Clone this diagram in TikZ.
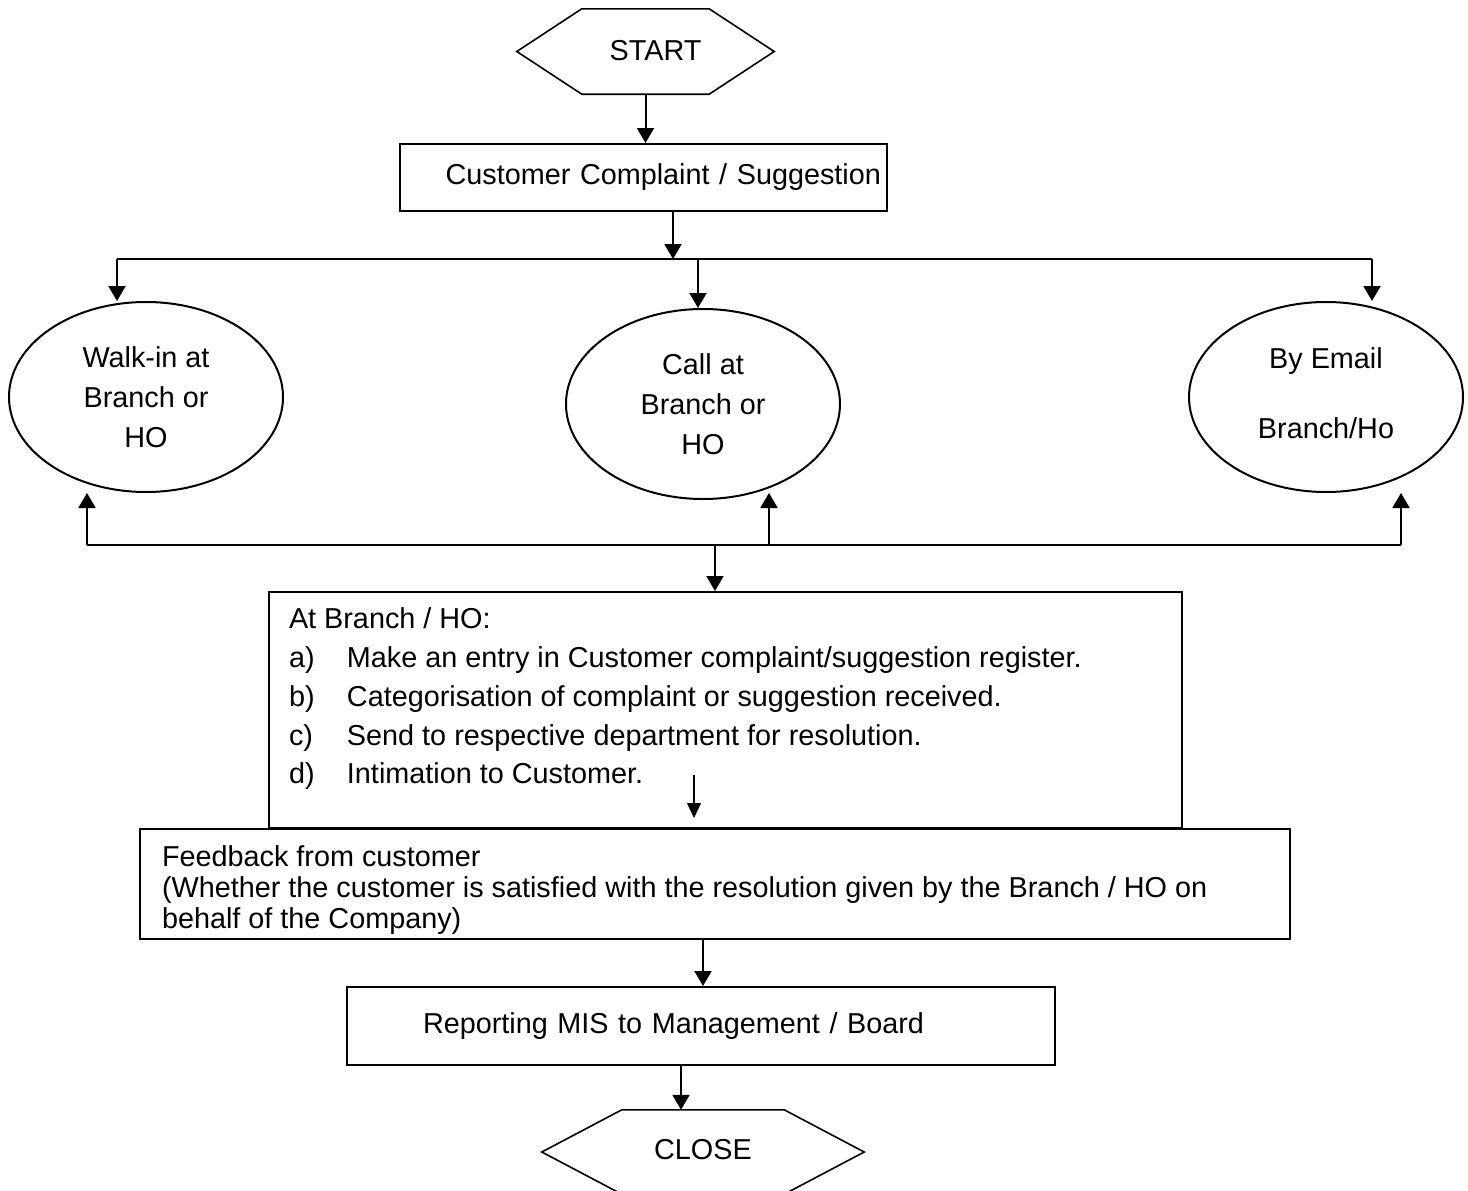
\documentclass[tikz,border=0pt]{standalone}
\usepackage{fontspec}
\setmainfont{Liberation Sans}
\usetikzlibrary{arrows.meta, shapes.geometric, positioning, calc}

\newcommand{\listrow}[2]{\makebox[58pt][l]{#1}#2}

\tikzset{
  line/.style={line width=2pt},
  arrow/.style={line, -{Triangle[width=17pt,length=15pt]}},
  thinarrow/.style={line width=1.2pt, -{Triangle[width=14pt,length=15pt]}},
  hexa/.style={minimum height=85pt, inner sep=0pt},
  box/.style={draw, line, anchor=north west, inner ysep=0pt, align=left},
  oval/.style={draw, line, ellipse, minimum width=274pt, minimum height=190pt, inner sep=0pt, align=center}
}

\begin{document}
\begin{tikzpicture}[x=1pt, y=-1pt, every node/.style={font=\fontsize{28.8}{40}\selectfont}]
\useasboundingbox (0,0) rectangle (1468,1191);

% start and close
\node[hexa, minimum width=127pt] (start) at (645.5,51.5) {\hspace*{20pt}\raisebox{3pt}{START}};
\node[hexa, minimum width=162pt, minimum height=84pt] (close) at (703,1152) {\raisebox{6pt}{CLOSE}};
\foreach \n/\r in {start/65, close/80}
  \draw[line, line width=1.6pt] (\n.north west) -- (\n.north east) -- ([xshift=\r pt]\n.east)
    -- (\n.south east) -- (\n.south west) -- ([xshift=-\r pt]\n.west) -- cycle;

% boxes
\node[box, align=right, text width=475pt, inner xsep=6pt, minimum height=67pt] (complaint) at (399,143) {Customer Complaint / Suggestion\par\vspace*{6pt}};

\node[oval] (walkin) at (146,397) {Walk-in at\\Branch or\\HO};
\node[oval] (call) at (703,404) {Call at\\Branch or\\HO};
\node[oval] (email) at (1326,397) {By Email\\[30pt]Branch/Ho\par\vspace*{8pt}};

\node[box, inner xsep=20pt, font=\fontsize{28.8}{38.75}\selectfont] (branch) at (268,591)
  {\parbox[c][236pt][t]{873pt}{\vspace*{16pt}At Branch / HO:\\
   \listrow{a)}{Make an entry in Customer complaint/suggestion register.}\\
   \listrow{b)}{Categorisation of complaint or suggestion received.}\\
   \listrow{c)}{Send to respective department for resolution.}\\
   \listrow{d)}{Intimation to Customer.}}};

\node[box, inner xsep=22pt, font=\fontsize{28.8}{31}\selectfont] (feedback) at (139,828)
  {\parbox[c][110pt][t]{1106pt}{\vspace*{17pt}Feedback from customer\\
   (Whether the customer is satisfied with the resolution given by the Branch / HO on\\
   behalf of the Company)}};

\node[box, text width=556pt, inner xsep=76pt, minimum height=78pt] (report) at (346,986) {Reporting MIS to Management / Board\par\vspace*{6pt}};

% bus lines
\coordinate (top) at (673,259);
\coordinate (tl) at (117,259);
\coordinate (tm) at (698,259);
\coordinate (tr) at (1372,259);
\coordinate (bl) at (87,545);
\coordinate (bm) at (769,545);
\coordinate (br) at (1401,545);
\coordinate (down) at (715,545);
\coordinate (ia) at (694,775);
\coordinate (rc) at (681,1064);

\draw[arrow] (start.south) -- (start.south |- complaint.north);
\draw[arrow] (complaint.south -| top) -- (top);
\draw[line] (tl) -- (tr);
\foreach \c/\e in {tl/walkin, tm/call, tr/email}
  \draw[arrow] (\c) -- (\c |- \e.north);
\draw[line] (bl) -- (br);
\foreach \c in {bl, bm, br}
  \draw[arrow] (\c) -- (\c |- walkin.south);
\draw[arrow] (down) -- (down |- branch.north);
\draw[thinarrow] (ia) -- ++(0,43);
\draw[arrow] (feedback.south -| close) -- (report.north -| close);
\draw[arrow] (rc) -- (rc |- close.north);
\end{tikzpicture}
\end{document}
